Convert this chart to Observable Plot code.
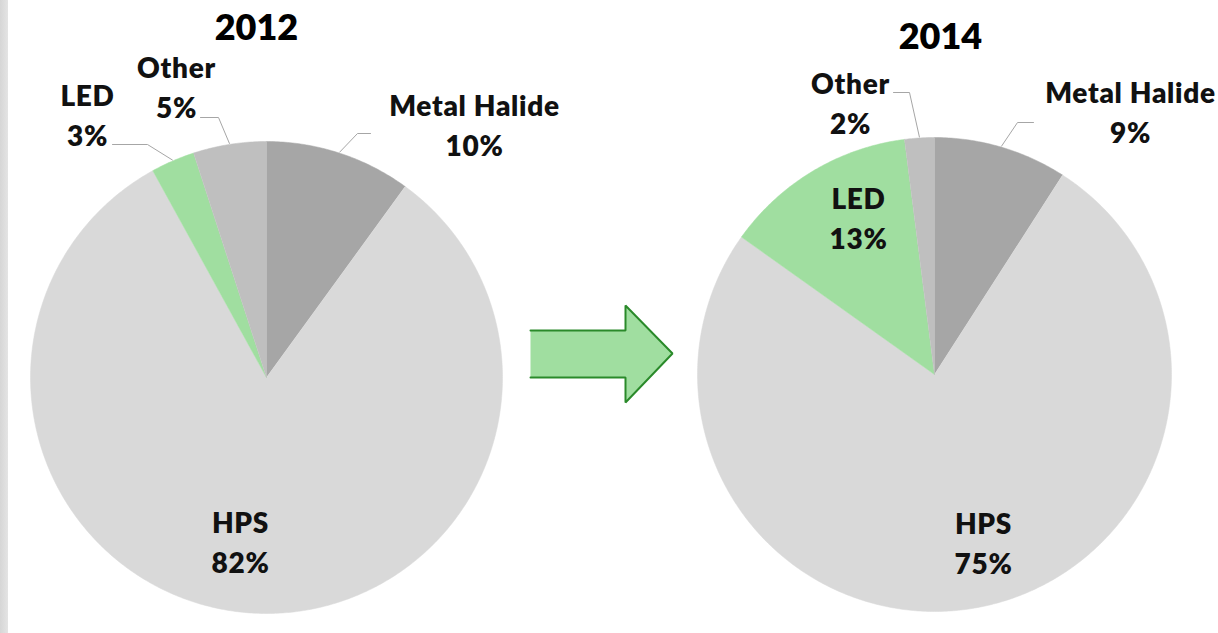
<!DOCTYPE html>
<html>
<head>
<meta charset="utf-8">
<script src="https://cdn.jsdelivr.net/npm/d3@7"></script>
<script src="https://cdn.jsdelivr.net/npm/@observablehq/plot@0.6"></script>
<style>
  html, body { margin: 0; padding: 0; background: #ffffff; }
  #wrap { position: relative; width: 1218px; height: 633px; overflow: hidden; }
  #strip { position: absolute; left: 0; top: 0; width: 8px; height: 633px;
           background: linear-gradient(to right, #d6d6d6, #e4e4e4); }
  #chart { position: absolute; left: 0; top: 0; }
  #chart .lbl text { letter-spacing: 0.7px; }
</style>
</head>
<body>
<div id="wrap"><div id="strip"></div><div id="chart"></div></div>
<script>
// ---- data ----
const categories = ["Metal Halide", "HPS", "LED", "Other"];
const years = ["2012", "2014"];
const share2012 = [10, 82, 3, 5];
const share2014 = [9, 75, 13, 2];

// ---- styles / layout (not data) ----
const colors = ["#a6a6a6", "#d9d9d9", "#a0dea0", "#bfbfbf"];
const W = 1218, H = 633;
const pies = [
  {year: years[0], values: share2012, cx: 266, cy: 377, r: 236},
  {year: years[1], values: share2014, cx: 934, cy: 374, r: 237}
];
// label centre (x) and first-line baseline (y); leader: elbow and end points
const labelLayout = {
  "2012": {
    "Metal Halide": {x: 474, y: 115, leader: [[357, 133], [370, 133]]},
    "HPS": {x: 240, y: 532},
    "LED": {x: 87, y: 105, leader: [[147, 144], [112, 144]]},
    "Other": {x: 176, y: 77, leader: [[218, 117], [200, 117]]}
  },
  "2014": {
    "Metal Halide": {x: 1130, y: 102, leader: [[1017, 122], [1033, 122]]},
    "HPS": {x: 983, y: 533},
    "LED": {x: 858, y: 208},
    "Other": {x: 850, y: 93, leader: [[909, 92], [893, 92]]}
  }
};
const titleLayout = {"2012": {x: 256, y: 39}, "2014": {x: 940, y: 48}};
const arrowShape = [[530, 330], [625, 330], [625, 305], [672, 353], [625, 402], [625, 377], [530, 377]];

// ---- build geometry from data ----
const slicePts = [];
const leaderPts = [];
const labelRows = [];
for (const p of pies) {
  const arcs = d3.pie().sort(null).value(d => d)(p.values);
  arcs.forEach((a, i) => {
    const cat = categories[i];
    const id = p.year + "-" + cat;
    slicePts.push({id, cat, x: p.cx, y: p.cy});
    const n = Math.max(2, Math.ceil((a.endAngle - a.startAngle) / 0.01));
    for (let k = 0; k <= n; k++) {
      const t = a.startAngle + (a.endAngle - a.startAngle) * k / n;
      slicePts.push({id, cat, x: p.cx + p.r * Math.sin(t), y: p.cy - p.r * Math.cos(t)});
    }
    const L = labelLayout[p.year][cat];
    if (L.leader) {
      const m = (a.startAngle + a.endAngle) / 2;
      leaderPts.push({id, x: p.cx + (p.r + 1) * Math.sin(m), y: p.cy - (p.r + 1) * Math.cos(m)});
      for (const [x, y] of L.leader) leaderPts.push({id, x, y});
    }
    labelRows.push({x: L.x, y: L.y, text: cat, value: p.values[i] + "%"});
  });
}
const titles = years.map(y => ({x: titleLayout[y].x, y: titleLayout[y].y, text: y}));
const arrowPts = arrowShape.map(([x, y]) => ({x, y}));

const font = "Lato, 'Open Sans', sans-serif";
const lbl = {fontSize: 28, fontWeight: 800, fill: "#111", lineAnchor: "bottom", fontFamily: font, className: "lbl"};
const chart = Plot.plot({
  width: W, height: H,
  margin: 0,
  x: {domain: [0, W], range: [0, W], axis: null},
  y: {domain: [0, H], range: [0, H], axis: null},
  color: {domain: categories, range: colors},
  style: {background: "transparent", fontFamily: font},
  marks: [
    Plot.line(slicePts, {x: "x", y: "y", z: "id", fill: "cat", stroke: "cat", strokeWidth: 0.5, curve: "linear"}),
    Plot.line(leaderPts, {x: "x", y: "y", z: "id", stroke: "#a6a6a6", strokeWidth: 1}),
    Plot.line(arrowPts, {x: "x", y: "y", fill: "#a0dea0", stroke: "#2a8a2a", strokeWidth: 2, strokeLinejoin: "miter"}),
    Plot.text(labelRows, {x: "x", y: "y", text: "text", ...lbl}),
    Plot.text(labelRows, {x: "x", y: d => d.y + 40, text: "value", ...lbl}),
    Plot.text(titles, {x: "x", y: "y", text: "text", fontSize: 36, fontWeight: 800, fill: "#000", lineAnchor: "bottom", fontFamily: font})
  ]
});
document.getElementById("chart").appendChild(chart);
</script>
</body>
</html>
